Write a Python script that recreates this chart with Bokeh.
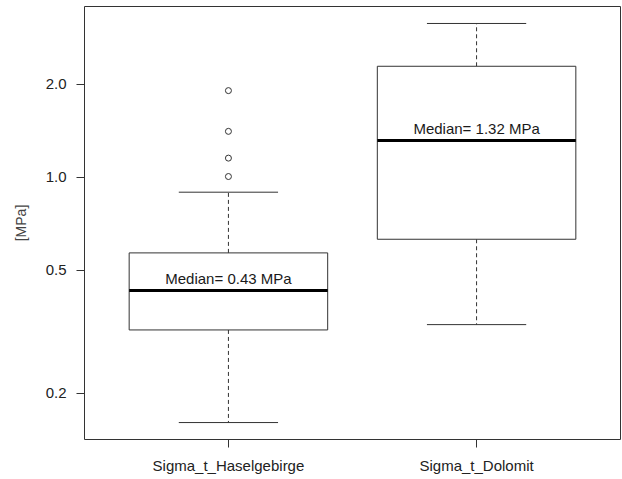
from bokeh.plotting import figure
from bokeh.models import Range1d, FixedTicker, NumeralTickFormatter
from bokeh.core.properties import value
from bokeh.embed import file_html
from bokeh.resources import INLINE

# ---- data ----
categories = ["Sigma_t_Haselgebirge", "Sigma_t_Dolomit"]
positions = [1, 2]
lower_whisker = [0.161, 0.334]
q1 = [0.321, 0.631]
median = [0.431, 1.317]
q3 = [0.570, 2.29]
upper_whisker = [0.896, 3.15]
outlier_group = [1, 1, 1, 1]
outlier_values = [1.007, 1.155, 1.41, 1.91]
median_labels = ["Median= 0.43 MPa", "Median= 1.32 MPa"]
y_ticks = [0.2, 0.5, 1.0, 2.0]

FONT = "Liberation Sans"
BOX_W = 0.8
CAP_W = 0.4
LINE = "#333333"

p = figure(width=621, height=476, y_axis_type="log",
           x_range=Range1d(0.42, 2.58), y_range=Range1d(0.1419, 3.575),
           output_backend="svg", toolbar_location=None,
           min_border_left=84, min_border_right=1, min_border_top=6,
           min_border_bottom=37)

p.background_fill_color = "white"
p.border_fill_color = "white"
p.outline_line_color = LINE
p.outline_line_width = 1
p.xgrid.visible = False
p.ygrid.visible = False

# whiskers (dashed)
p.segment(x0=positions, x1=positions, y0=q3, y1=upper_whisker,
          line_color=LINE, line_width=1, line_dash="4 3")
p.segment(x0=positions, x1=positions, y0=q1, y1=lower_whisker,
          line_color=LINE, line_width=1, line_dash="4 3")
# caps
p.segment(x0=[x - CAP_W / 2 for x in positions], x1=[x + CAP_W / 2 for x in positions],
          y0=upper_whisker, y1=upper_whisker, line_color=LINE, line_width=1)
p.segment(x0=[x - CAP_W / 2 for x in positions], x1=[x + CAP_W / 2 for x in positions],
          y0=lower_whisker, y1=lower_whisker, line_color=LINE, line_width=1)
# boxes
p.vbar(x=positions, width=BOX_W, bottom=q1, top=q3,
       fill_color="white", line_color=LINE, line_width=1)
# medians
p.segment(x0=[x - BOX_W / 2 for x in positions], x1=[x + BOX_W / 2 for x in positions],
          y0=median, y1=median, line_color="black", line_width=3)
# outliers
p.scatter(x=outlier_group, y=outlier_values, marker="circle", size=6,
          fill_color="white", line_color=LINE, line_width=1)
# median labels
p.text(x=positions, y=median, text=median_labels, text_align="center",
       text_baseline="middle", y_offset=-12, text_font=value(FONT),
       text_font_size="15px", text_color="#1a1a1a")

# axes
for ax in (p.xaxis[0], p.yaxis[0]):
    ax.axis_line_color = None
    ax.major_tick_line_color = LINE
    ax.major_tick_out = 8
    ax.major_tick_in = 0
    ax.minor_tick_line_color = None
    ax.major_label_text_font = FONT
    ax.major_label_text_font_size = "15px"
    ax.major_label_text_color = "#222222"

p.yaxis.ticker = FixedTicker(ticks=y_ticks)
p.yaxis.formatter = NumeralTickFormatter(format="0.0")
p.yaxis.major_label_orientation = "horizontal"
p.yaxis.major_label_standoff = 10
p.yaxis.axis_label = "[MPa]"
p.yaxis.axis_label_text_font = FONT
p.yaxis.axis_label_text_font_size = "14px"
p.yaxis.axis_label_text_font_style = "normal"
p.yaxis.axis_label_text_color = "#444444"
p.yaxis.axis_label_standoff = 14

p.xaxis.ticker = FixedTicker(ticks=positions)
p.xaxis.major_label_overrides = {pos: cat for pos, cat in zip(positions, categories)}
p.xaxis.major_label_standoff = 9

open("out.html", "w").write(file_html(p, INLINE))
